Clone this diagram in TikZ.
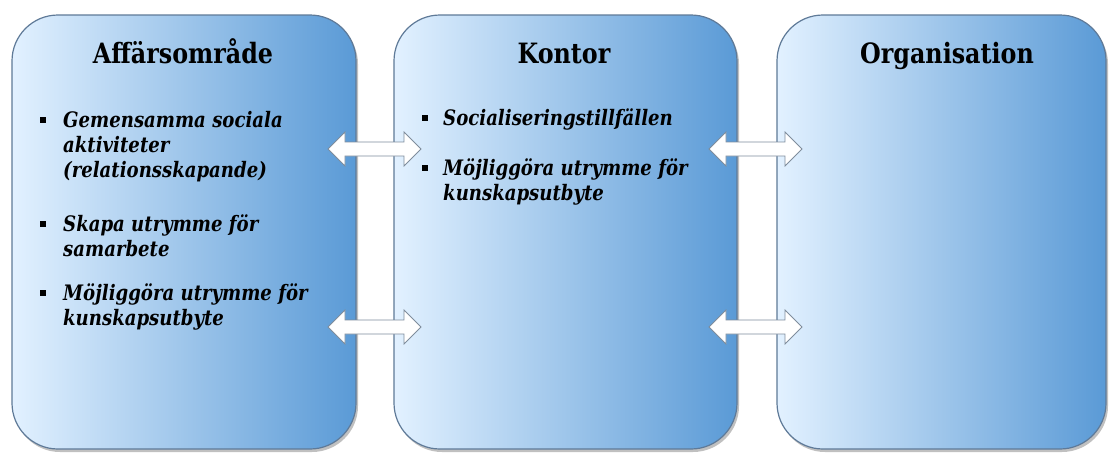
\documentclass[tikz,border=0pt]{standalone}
\usepackage{fontspec}
\setmainfont{DejaVu Serif}[FakeStretch=0.85]
\usetikzlibrary{shadows,calc}

\definecolor{panelleft}{HTML}{E2F1FF}
\definecolor{panelmid}{HTML}{AFD1F7}
\definecolor{panelright}{HTML}{5A9AD6}
\definecolor{paneledge}{HTML}{5F7A98}
\definecolor{arrowedge}{HTML}{7F8D9C}

\tikzset{
  panel/.style={draw=paneledge, line width=1.2pt, rounded corners=46pt,
    left color=panelleft, middle color=panelmid, right color=panelright,
    drop shadow={shadow xshift=2pt, shadow yshift=-3pt, opacity=0.35, fill=black!70},
    inner sep=0pt},
  paneltitle/.style={anchor=base, inner sep=0pt, font=\bfseries\fontsize{28}{31}\selectfont},
  itemline/.style={anchor=base west, inner sep=0pt, font=\bfseries\itshape\fontsize{21.3}{25}\selectfont},
  bulletsq/.style={fill=black, minimum size=6pt, inner sep=0pt, draw=none},
  arrowbody/.style={draw=arrowedge, fill=white, line width=0.8pt, line join=miter}
}

% double-headed block arrow between two named points
\newcommand\blockarrow[2]{%
  \draw[arrowbody] (#1) -- ($(#1)+(17,-17)$) -- ($(#1)+(17,-7)$)
    -- ($(#2)+(-17,-7)$) -- ($(#2)+(-17,-17)$) -- (#2)
    -- ($(#2)+(-17,17)$) -- ($(#2)+(-17,7)$)
    -- ($(#1)+(17,7)$) -- ($(#1)+(17,17)$) -- cycle;}

\begin{document}
\begin{tikzpicture}[x=1pt, y=-1pt]
\useasboundingbox (0,0) rectangle (1110,453);
\fill[white] (0,0) rectangle (1110,453);

% three panels
\node[panel, minimum width=344pt, minimum height=434pt] (b1) at (184,232) {};
\node[panel, minimum width=343pt, minimum height=434pt] (b2) at (565.5,232) {};
\node[panel, minimum width=329pt, minimum height=434pt] (b3) at (941.5,232) {};

% titles
\node[paneltitle] (t1) at (183,63) {Affärsområde};
\node[paneltitle] (t2) at (564,63) {Kontor};
\node[paneltitle] (t3) at (947,63) {Organisation};

% items, first panel
\node[bulletsq] (s11) at (43,120) {};
\node[itemline] (l11a) at (63,127) {Gemensamma sociala};
\node[itemline] (l11b) at (63,152) {aktiviteter};
\node[itemline] (l11c) at (63,177) {(relationsskapande)};
\node[bulletsq] (s12) at (43,224) {};
\node[itemline] (l12a) at (63,231) {Skapa utrymme för};
\node[itemline] (l12b) at (63,256) {samarbete};
\node[bulletsq] (s13) at (43,293) {};
\node[itemline] (l13a) at (63,300) {Möjliggöra utrymme för};
\node[itemline] (l13b) at (63,325) {kunskapsutbyte};

% items, second panel
\node[bulletsq] (s21) at (425,118) {};
\node[itemline] (l21a) at (443,125) {Socialiseringstillfällen};
\node[bulletsq] (s22) at (425,168) {};
\node[itemline] (l22a) at (443,175) {Möjliggöra utrymme för};
\node[itemline] (l22b) at (443,200) {kunskapsutbyte};

% arrow ends
\coordinate (a1l) at (328,149);
\coordinate (a1r) at (421,149);
\coordinate (a2l) at (328,327);
\coordinate (a2r) at (421,327);
\coordinate (a3l) at (709,149);
\coordinate (a3r) at (802,149);
\coordinate (a4l) at (709,327);
\coordinate (a4r) at (802,327);

\blockarrow{a1l}{a1r}
\blockarrow{a2l}{a2r}
\blockarrow{a3l}{a3r}
\blockarrow{a4l}{a4r}
\end{tikzpicture}
\end{document}
